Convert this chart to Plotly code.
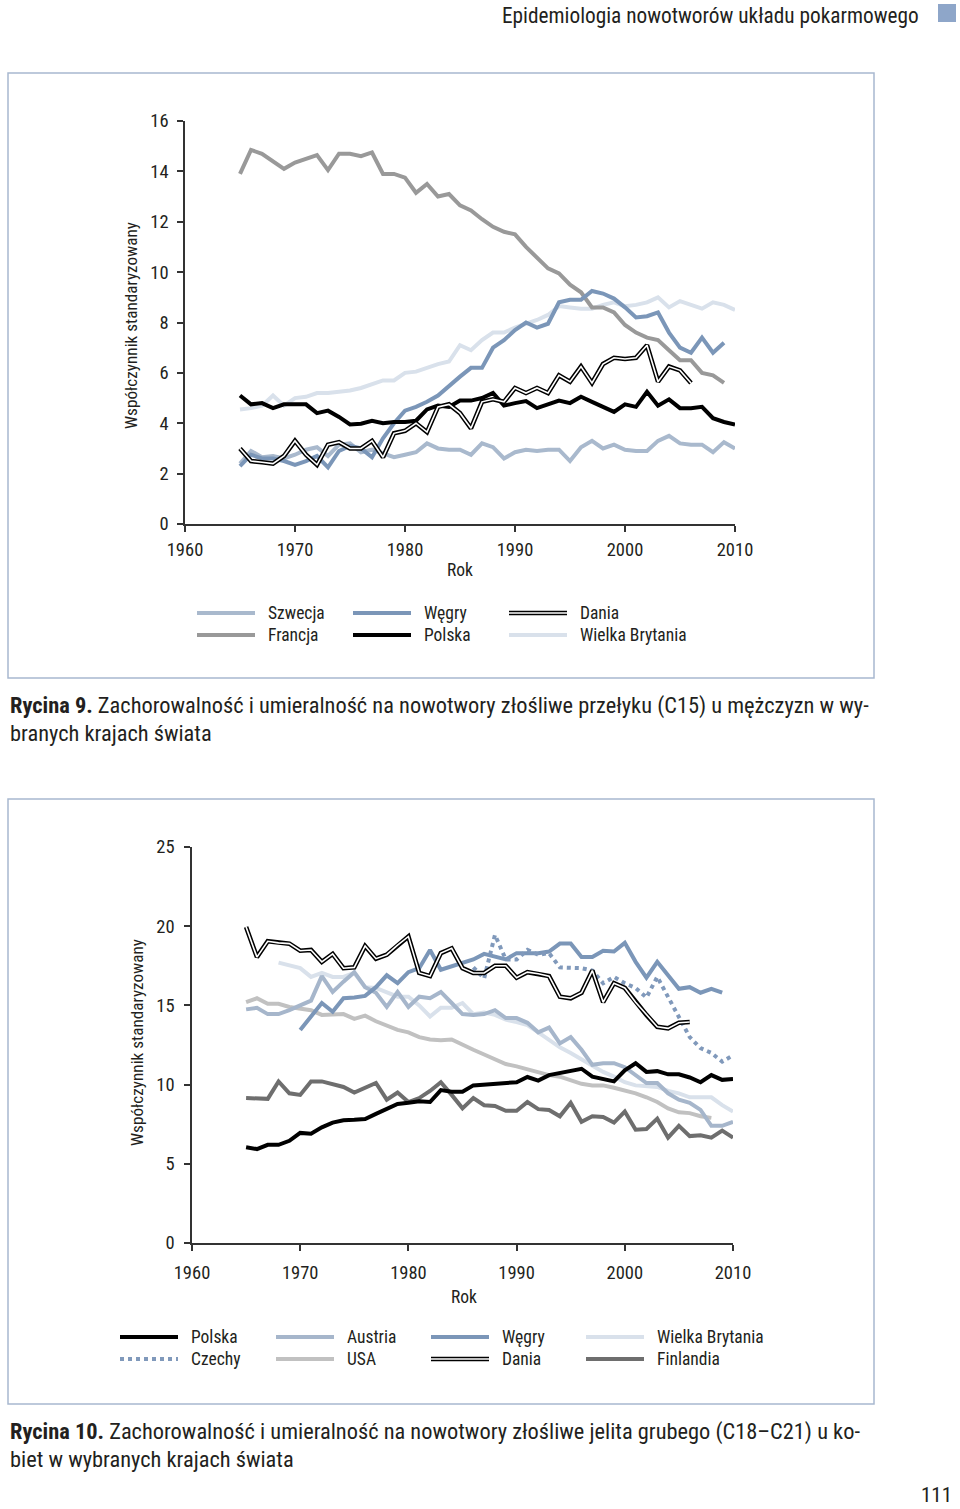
import plotly.graph_objects as go

W, H = 960, 1509
FONT = "Roboto Condensed, Noto Sans Condensed, Liberation Sans Narrow, DejaVu Sans Condensed, sans-serif"
TXT = "#231f20"

# ---------------- Chart 1 data (Rycina 9) ----------------
szwecja1 = [2.4, 2.9, 2.65, 2.7, 2.6, 2.75, 2.95, 3.05, 2.7, 3.15,
            3.2, 2.85, 2.95, 2.8, 2.65, 2.75, 2.85, 3.2, 3.0, 2.95,
            2.95, 2.75, 3.2, 3.05, 2.6, 2.85, 2.95, 2.9, 2.95, 2.95,
            2.5, 3.05, 3.3, 3.0, 3.15, 2.95, 2.9, 2.9, 3.3, 3.5,
            3.2, 3.15, 3.15, 2.85, 3.25, 3.0]                 # 1965-2010
wegry1 = [2.3, 2.75, 2.6, 2.6, 2.5, 2.35, 2.5, 2.7, 2.25, 2.9,
          3.1, 3.0, 2.65, 3.4, 4.0, 4.5, 4.65, 4.85, 5.1, 5.5,
          5.85, 6.2, 6.2, 7.0, 7.3, 7.7, 8.0, 7.8, 7.95, 8.8,
          8.9, 8.9, 9.25, 9.15, 8.95, 8.6, 8.2, 8.25, 8.4, 7.6,
          7.0, 6.8, 7.4, 6.8, 7.2]                            # 1965-2009
dania1 = [3.0, 2.5, 2.45, 2.4, 2.7, 3.3, 2.75, 2.35, 3.15, 3.25,
          3.0, 3.0, 3.3, 2.65, 3.6, 3.7, 4.0, 3.65, 4.65, 4.75,
          4.4, 3.8, 4.85, 4.95, 4.85, 5.4, 5.2, 5.4, 5.2, 5.9,
          5.65, 6.25, 5.6, 6.35, 6.6, 6.55, 6.6, 7.1, 5.65, 6.25,
          6.1, 5.6]                                           # 1965-2006
francja1 = [13.9, 14.85, 14.7, 14.4, 14.1, 14.35, 14.5, 14.65, 14.05, 14.7,
            14.7, 14.6, 14.75, 13.9, 13.9, 13.75, 13.15, 13.5, 13.0, 13.1,
            12.65, 12.45, 12.1, 11.8, 11.6, 11.5, 11.0, 10.6, 10.15, 9.95,
            9.5, 9.2, 8.6, 8.6, 8.4, 7.9, 7.6, 7.4, 7.3, 6.9,
            6.5, 6.5, 6.0, 5.9, 5.6]                          # 1965-2009
polska1 = [5.1, 4.75, 4.8, 4.6, 4.75, 4.75, 4.75, 4.4, 4.5, 4.25,
           3.95, 3.98, 4.1, 4.0, 4.05, 4.05, 4.1, 4.55, 4.7, 4.65,
           4.9, 4.9, 5.0, 5.2, 4.7, 4.8, 4.88, 4.6, 4.75, 4.9,
           4.8, 5.05, 4.85, 4.65, 4.45, 4.75, 4.65, 5.25, 4.7, 4.95,
           4.6, 4.6, 4.65, 4.2, 4.05, 3.95]                   # 1965-2010
wb1 = [4.55, 4.6, 4.7, 5.1, 4.7, 5.0, 5.05, 5.2, 5.2, 5.25,
       5.3, 5.4, 5.55, 5.7, 5.7, 6.0, 6.05, 6.2, 6.35, 6.45,
       7.1, 6.9, 7.3, 7.6, 7.6, 7.8, 7.95, 8.1, 8.3, 8.65,
       8.6, 8.55, 8.55, 8.7, 8.8, 8.65, 8.7, 8.8, 9.0, 8.6,
       8.85, 8.7, 8.55, 8.8, 8.7, 8.5]                        # 1965-2010
yticks1 = [0, 2, 4, 6, 8, 10, 12, 14, 16]
xticks = [1960, 1970, 1980, 1990, 2000, 2010]

# ---------------- Chart 2 data (Rycina 10) ----------------
polska2 = [6.05, 5.93, 6.2, 6.2, 6.45, 6.95, 6.9, 7.3, 7.6, 7.75,
           7.78, 7.83, 8.15, 8.45, 8.78, 8.85, 8.95, 8.9, 9.65, 9.55,
           9.55, 9.95, 10.0, 10.0, 10.1, 10.15, 10.48, 10.25, 10.6, 10.75,
           10.85, 11.0, 10.5, 10.35, 10.2, 10.9, 11.35, 10.8, 10.85, 10.65,
           10.65, 10.45, 10.15, 10.6, 10.3, 10.35]          # 1965-2010
czechy2 = [17.4, 16.7, 19.45, 17.9, 17.9, 18.5, 18.2, 18.3, 17.4, 17.4,
           17.35, 17.2, 16.4, 16.8, 16.4, 16.1, 15.5, 16.8, 15.5, 14.25,
           13.0, 12.3, 12.0, 11.45, 11.85]                  # 1986-2010
austria2 = [14.75, 14.85, 14.45, 14.45, 14.7, 15.0, 15.3, 16.85, 15.85, 16.5,
            17.1, 16.15, 15.8, 14.9, 15.85, 14.9, 15.55, 15.45, 15.85, 15.15,
            14.45, 14.4, 14.45, 14.7, 14.2, 14.2, 13.9, 13.3, 13.6, 12.6,
            13.0, 12.2, 11.25, 11.35, 11.35, 11.1, 10.6, 10.1, 10.1, 9.45,
            9.05, 8.85, 8.4, 7.4, 7.4, 7.65]                # 1965-2010
usa2 = [15.2, 15.45, 15.1, 15.1, 14.9, 14.8, 14.7, 14.4, 14.4, 14.45,
        14.15, 14.35, 14.0, 13.75, 13.45, 13.3, 13.0, 12.85, 12.8, 12.85,
        12.5, 12.2, 11.9, 11.6, 11.3, 11.15, 10.95, 10.75, 10.6, 10.5,
        10.3, 10.05, 9.95, 9.95, 9.8, 9.65, 9.45, 9.2, 8.9, 8.5,
        8.25, 8.2, 8.0, 7.9]                                # 1965-2008
wegry2 = [13.45, 14.3, 15.15, 14.6, 15.45, 15.5, 15.6, 16.15, 16.9, 16.4,
          17.1, 17.35, 18.5, 17.25, 17.45, 17.7, 17.9, 18.25, 18.05, 17.9,
          18.3, 18.3, 18.3, 18.4, 18.9, 18.9, 18.05, 18.05, 18.45, 18.4,
          18.95, 17.75, 16.75, 17.75, 16.9, 16.05, 16.15, 15.8, 16.05, 15.8]  # 1970-2009
dania2 = [19.95, 18.05, 19.05, 18.95, 18.9, 18.45, 18.5, 17.75, 18.25, 17.35,
          17.4, 18.75, 17.95, 18.2, 18.8, 19.35, 17.05, 16.85, 18.3, 18.6,
          17.35, 17.05, 17.05, 17.5, 17.5, 16.75, 17.1, 17.0, 16.85, 15.55,
          15.45, 15.8, 17.2, 15.2, 16.4, 16.1, 15.2, 14.4, 13.65, 13.55,
          13.9, 13.95]                                      # 1965-2006
wb2 = [17.7, 17.5, 17.35, 16.8, 17.05, 16.8, 16.8, 17.05, 16.15, 16.1,
       15.85, 15.55, 15.55, 15.0, 14.3, 14.85, 14.85, 15.15, 14.45, 14.55,
       14.4, 14.1, 13.95, 13.75, 13.3, 12.8, 12.35, 12.0, 11.6, 11.15,
       10.8, 10.5, 10.15, 9.95, 9.9, 9.85, 9.6, 9.45, 9.2, 9.2,
       9.2, 8.7, 8.3]                                       # 1968-2010
finlandia2 = [9.15, 9.12, 9.1, 10.2, 9.45, 9.35, 10.2, 10.2, 10.0, 9.85,
              9.5, 9.8, 10.1, 9.05, 9.5, 8.9, 9.15, 9.6, 10.15, 9.35,
              8.5, 9.15, 8.7, 8.65, 8.35, 8.35, 8.9, 8.45, 8.4, 8.0,
              8.85, 7.65, 8.0, 7.95, 7.6, 8.3, 7.15, 7.2, 7.85, 6.65,
              7.4, 6.75, 6.8, 6.65, 7.1, 6.65]              # 1965-2010
yticks2 = [0, 5, 10, 15, 20, 25]

# ---------------- Styles ----------------
C_SZW = "#a9b9cd"
C_WEG = "#7b96b8"
C_FRA = "#999999"
C_WB = "#d9e1eb"
C_AUS = "#a6b6cb"
C_USA = "#c1c1c1"
C_FIN = "#6e6e6e"
C_CZE = "#8099bb"
LW = 4


def yrs(start, values):
    return list(range(start, start + len(values)))


def px(x):
    return x / W


def py(y):
    return 1 - y / H


fig = go.Figure()


def line(x, y, color, width=LW, dash="solid", xa="x", ya="y"):
    fig.add_trace(go.Scatter(x=x, y=y, mode="lines", xaxis=xa, yaxis=ya,
                             line=dict(color=color, width=width, dash=dash),
                             showlegend=False, hoverinfo="skip"))


def double(x, y, xa, ya):
    line(x, y, "#000000", 4.6, xa=xa, ya=ya)
    line(x, y, "#ffffff", 1.6, xa=xa, ya=ya)


# chart 1 traces
line(yrs(1965, wb1), wb1, C_WB)
line(yrs(1965, szwecja1), szwecja1, C_SZW)
line(yrs(1965, francja1), francja1, C_FRA)
line(yrs(1965, wegry1), wegry1, C_WEG)
line(yrs(1965, polska1), polska1, "#000000")
double(yrs(1965, dania1), dania1, "x", "y")

# chart 2 traces
line(yrs(1968, wb2), wb2, C_WB, xa="x2", ya="y2")
line(yrs(1965, usa2), usa2, C_USA, xa="x2", ya="y2")
line(yrs(1965, austria2), austria2, C_AUS, xa="x2", ya="y2")
line(yrs(1965, finlandia2), finlandia2, C_FIN, xa="x2", ya="y2")
line(yrs(1970, wegry2), wegry2, C_WEG, xa="x2", ya="y2")
line(yrs(1986, czechy2), czechy2, C_CZE, dash="dot", xa="x2", ya="y2")
line(yrs(1965, polska2), polska2, "#000000", xa="x2", ya="y2")
double(yrs(1965, dania2), dania2, "x2", "y2")

axis_common = dict(showline=True, linecolor="#333333", linewidth=1.5,
                   ticks="outside", tickcolor="#333333", tickwidth=1.5, ticklen=6,
                   showgrid=False, zeroline=False, fixedrange=True, automargin=False,
                   tickfont=dict(family=FONT, size=18.5, color=TXT))

fig.update_layout(
    template="none",
    width=W, height=H, autosize=False,
    margin=dict(l=0, r=0, t=0, b=0, pad=0, autoexpand=False),
    paper_bgcolor="white", plot_bgcolor="white",
    font=dict(family=FONT, color=TXT),
    showlegend=False,
    xaxis=dict(domain=[px(185), px(735)], range=[1960, 2010], tickvals=xticks,
               anchor="y", ticklabelstandoff=2, **axis_common),
    yaxis=dict(domain=[py(524), py(121)], range=[0, 16], tickvals=yticks1,
               anchor="x", ticklabelstandoff=5, **axis_common),
    xaxis2=dict(domain=[px(192), px(733)], range=[1960, 2010], tickvals=xticks,
                anchor="y2", ticklabelstandoff=6, **axis_common),
    yaxis2=dict(domain=[py(1243), py(847)], range=[0, 25], tickvals=yticks2,
                anchor="x2", ticklabelstandoff=6, **axis_common),
)

shapes = []
ann = []


def text(x, y, s, size=17.5, xanchor="left", angle=0, color=TXT):
    ann.append(dict(x=px(x), y=py(y), xref="paper", yref="paper", text=s,
                    showarrow=False, xanchor=xanchor, yanchor="middle",
                    textangle=angle, font=dict(family=FONT, size=size, color=color)))


def seg(x0, x1, y, color, width, dash="solid"):
    shapes.append(dict(type="line", xref="paper", yref="paper",
                       x0=px(x0), x1=px(x1), y0=py(y), y1=py(y),
                       line=dict(color=color, width=width, dash=dash)))


def legend_item(x0, y, label, color, kind="solid"):
    if kind == "double":
        seg(x0, x0 + 58, y, "#000000", 4.6)
        seg(x0, x0 + 58, y, "#ffffff", 1.6)
    elif kind == "dot":
        seg(x0, x0 + 58, y, color, LW, "dot")
    else:
        seg(x0, x0 + 58, y, color, LW)
    text(x0 + 69, y, label, size=17.5)


# frames
for (y0, y1) in [(73, 678), (799, 1404)]:
    shapes.append(dict(type="rect", xref="paper", yref="paper",
                       x0=px(8), x1=px(874), y0=py(y1), y1=py(y0),
                       line=dict(color="#a8b8cf", width=1.5), fillcolor="rgba(0,0,0,0)"))

# header
text(921, 15, "Epidemiologia nowotworów układu pokarmowego", size=21.3, xanchor="right")
shapes.append(dict(type="rect", xref="paper", yref="paper",
                   x0=px(938), x1=px(956), y0=py(22), y1=py(4),
                   line=dict(width=0), fillcolor="#8ea6c9"))

# chart 1 texts
text(460, 570, "Rok", size=17.5, xanchor="center")
text(131, 326, "Współczynnik standaryzowany", size=17.2, xanchor="center", angle=-90)
legend_item(197, 613, "Szwecja", C_SZW)
legend_item(197, 635, "Francja", C_FRA)
legend_item(353, 613, "Węgry", C_WEG)
legend_item(353, 635, "Polska", "#000000")
legend_item(509, 613, "Dania", None, "double")
legend_item(509, 635, "Wielka Brytania", C_WB)

# chart 2 texts
text(464, 1297, "Rok", size=17.5, xanchor="center")
text(137, 1043, "Współczynnik standaryzowany", size=17.2, xanchor="center", angle=-90)
legend_item(120, 1337, "Polska", "#000000")
legend_item(120, 1359, "Czechy", C_CZE, "dot")
legend_item(276, 1337, "Austria", C_AUS)
legend_item(276, 1359, "USA", C_USA)
legend_item(431, 1337, "Węgry", C_WEG)
legend_item(431, 1359, "Dania", None, "double")
legend_item(586, 1337, "Wielka Brytania", C_WB)
legend_item(586, 1359, "Finlandia", C_FIN)

# captions
CAP = 22.4
text(8, 705, "<b>Rycina 9.</b> Zachorowalność i umieralność na nowotwory złośliwe przełyku (C15) u mężczyzn w wy-", size=CAP)
text(8, 733, "branych krajach świata", size=CAP)
text(8, 1431, "<b>Rycina 10.</b> Zachorowalność i umieralność na nowotwory złośliwe jelita grubego (C18–C21) u ko-", size=CAP)
text(8, 1459, "biet w wybranych krajach świata", size=CAP)

# page number
text(954, 1495, "111", size=21, xanchor="right")

fig.update_layout(shapes=shapes, annotations=ann)

fig.write_html("out.html", config={"displayModeBar": False, "responsive": False},
               post_script="document.body.style.margin='0';document.body.style.overflow='hidden';")
